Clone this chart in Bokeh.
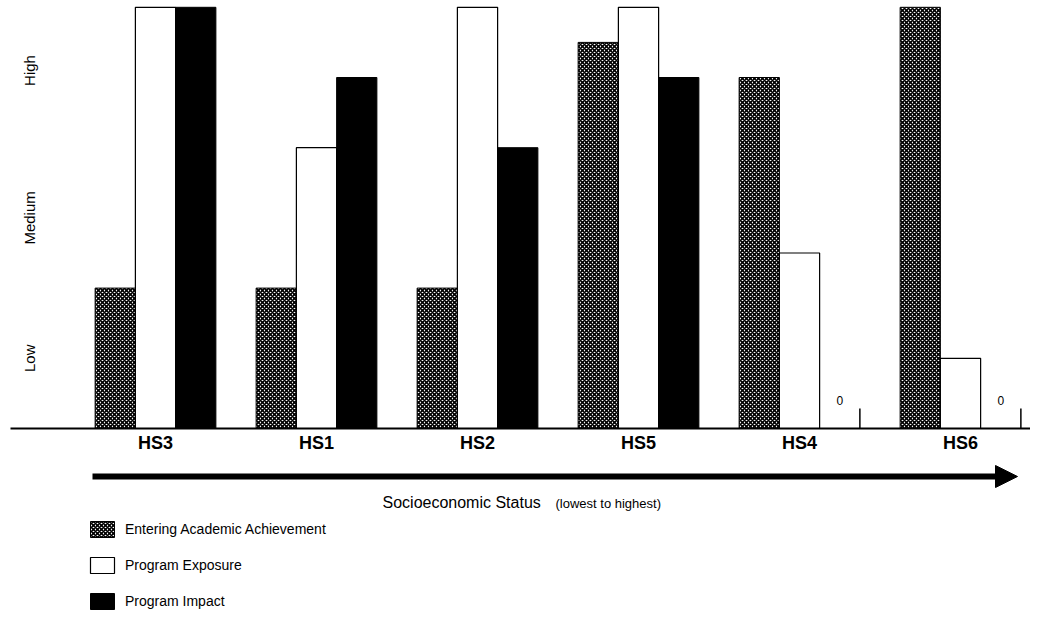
import numpy as np
from bokeh.plotting import figure
from bokeh.models import Range1d, ColumnDataSource, Arrow, NormalHead, Legend, LegendItem
from bokeh.transform import dodge
from bokeh.core.properties import value
from bokeh.embed import file_html
from bokeh.resources import INLINE

# ---- data ----
schools = ["HS3", "HS1", "HS2", "HS5", "HS4", "HS6"]
achievement = [2.0, 2.0, 2.0, 5.5, 5.0, 6.0]   # Entering Academic Achievement
exposure = [6.0, 4.0, 6.0, 6.0, 2.5, 1.0]      # Program Exposure
impact = [6.0, 5.0, 4.0, 5.0, 0.0, 0.0]        # Program Impact
levels = ["Low", "Medium", "High"]
level_y = [1.0, 3.0, 5.1]
series_names = ["Entering Academic Achievement", "Program Exposure", "Program Impact"]

# ---- layout helpers (picture pixel -> data) ----
W, H = 1030, 611
PX_X, PX_Y = 161.0, 70.2
def fx(rx): return (rx - 155.0) / PX_X
def fy(ry): return (428.0 - ry) / PX_Y

FONT_NAME = "Liberation Sans"
FONT = value(FONT_NAME)

p = figure(width=W, height=H, x_range=Range1d(fx(0), fx(W)),
           y_range=Range1d(fy(H), fy(0)),
           x_axis_type=None, y_axis_type=None,
           output_backend="svg", toolbar_location=None,
           min_border=0, outline_line_color=None,
           background_fill_color="white", border_fill_color="white")

src = ColumnDataSource(dict(x=np.arange(len(schools)), ach=achievement,
                            exp=exposure, imp=impact))
bw = 0.25
r1 = p.vbar(x=dodge("x", -bw, range=p.x_range), top="ach", width=bw, source=src,
            fill_color="white", hatch_pattern="diagonal_cross", hatch_color="black",
            hatch_scale=4, hatch_weight=1.6, line_color="black", line_width=1)
r2 = p.vbar(x="x", top="exp", width=bw, source=src,
            fill_color="white", line_color="black", line_width=1.2)
r3 = p.vbar(x=dodge("x", bw, range=p.x_range), top="imp", width=bw, source=src,
            fill_color="black", line_color="black", line_width=1)

# zero markers for missing impact
zx = [i + bw for i, v in enumerate(impact) if v == 0]
p.text(x=zx, y=[fy(400)] * len(zx), text=["0"] * len(zx),
       text_font=FONT, text_font_size="12px", text_align="center",
       text_baseline="middle", text_color="black")
p.segment(x0=[x + bw / 2 for x in zx], y0=[0] * len(zx),
          x1=[x + bw / 2 for x in zx], y1=[fy(408)] * len(zx),
          line_color="black", line_width=1.5)

# baseline
p.segment(x0=[fx(10)], y0=[0], x1=[fx(1046)], y1=[0], line_color="black", line_width=2)

# school labels
p.text(x=list(range(len(schools))), y=[fy(442)] * len(schools), text=schools,
       text_font=FONT, text_font_size="18px", text_font_style="bold",
       text_align="center", text_baseline="middle", text_color="black")

# level labels (rotated)
p.text(x=[fx(29)] * len(levels), y=level_y, text=levels, angle=np.pi / 2,
       text_font=FONT, text_font_size="15px", text_align="center",
       text_baseline="middle", text_color="black")

# arrow
p.add_layout(Arrow(end=NormalHead(size=22, fill_color="black", line_color="black"),
                   x_start=fx(92), y_start=fy(476), x_end=fx(1017), y_end=fy(476),
                   line_width=6, line_color="black"))

# axis caption
p.text(x=[fx(382)], y=[fy(502)], text=["Socioeconomic Status"],
       text_font=FONT, text_font_size="16px", text_align="left",
       text_baseline="middle", text_color="black")
p.text(x=[fx(555)], y=[fy(503)], text=["(lowest to highest)"],
       text_font=FONT, text_font_size="13px", text_align="left",
       text_baseline="middle", text_color="black")

legend = Legend(items=[LegendItem(label=series_names[0], renderers=[r1]),
                       LegendItem(label=series_names[1], renderers=[r2]),
                       LegendItem(label=series_names[2], renderers=[r3])],
                location=(87, 0), orientation="vertical",
                glyph_width=30, glyph_height=20, label_height=20,
                label_standoff=8, spacing=16, padding=0, margin=0,
                border_line_color=None, background_fill_alpha=0,
                label_text_font=FONT_NAME, label_text_font_size="14px",
                label_text_color="black")
p.add_layout(legend)

open("out.html", "w").write(file_html(p, INLINE))
